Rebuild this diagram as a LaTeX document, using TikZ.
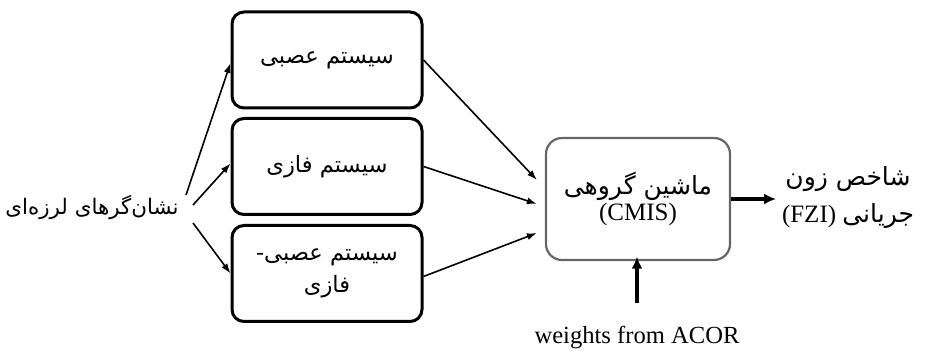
\documentclass[tikz,border=0pt]{standalone}
\usepackage{fontspec}
\setmainfont{Liberation Serif}
\newfontfamily\fa[Script=Arabic]{DejaVu Sans}
\TeXXeTstate=1
\usetikzlibrary{arrows.meta}
\begin{document}
\begin{tikzpicture}[x=0.5pt,y=-0.5pt,
sysbox/.style={draw,line width=1.5pt,rounded corners=6pt,minimum width=95pt,minimum height=48pt,align=center,font=\fa\fontsize{11.3}{16}\selectfont},
ensbox/.style={draw=black!60,line width=1.1pt,rounded corners=8pt,minimum width=92pt,minimum height=61pt,align=center,font=\fontsize{12.5}{13}\selectfont},
label/.style={align=center,font=\fontsize{12.5}{18.5}\selectfont},
thin/.style={-{Latex[length=5pt,width=3.5pt]},line width=0.8pt},
fat/.style={-{Latex[length=6pt,width=5.5pt]},line width=1.6pt},
]
\useasboundingbox(0,0)rectangle(925,351);
%input
\node[label,font=\fontsize{10.7}{13}\selectfont](seis)at(92,208){\fa\beginR نشان‌گرهای لرزه‌ای\endR};
\coordinate(s1)at(186,195);
\coordinate(s2)at(193,205);
\coordinate(s3)at(193,223);

%systems
\node[sysbox](neur)at(327,60){\beginR سیستم عصبی\endR};
\node[sysbox](fuzz)at(327,166.5){\beginR سیستم فازی\endR};
\node[sysbox](nfuz)at(327,273.5){\beginR سیستم عصبی-\endR\\\beginR فازی\endR};

%committee machine
\node[ensbox](cmis)at(638,199){{\fa\beginR ماشین گروهی\endR}\\(CMIS)};

%output
\node[label](fzi)at(848,198){{\fa\beginR شاخص زون\endR}\\(FZI)\ {\fa\beginR جریانی\endR}};
\node[label,font=\fontsize{12.3}{14}\selectfont](acor)at(637,337){weights from ACOR};

%arrows
\draw[thin](s1)--([yshift=-1.5pt]neur.west);
\draw[thin](s2)--([yshift=1.5pt]fuzz.west);
\draw[thin](s3)--(nfuz.west);
\draw[thin](neur.east)--([yshift=9.5pt,xshift=-4pt]cmis.west);
\draw[thin](fuzz.east)--([yshift=-2.5pt,xshift=-4pt]cmis.west);
\draw[thin]([yshift=-1.5pt]nfuz.east)--([yshift=-17pt,xshift=-4pt]cmis.west);
\draw[fat](cmis.east)--++(45,0);
\draw[fat]([yshift=8pt]acor.north)--++(0,-46);
\end{tikzpicture}
\end{document}
